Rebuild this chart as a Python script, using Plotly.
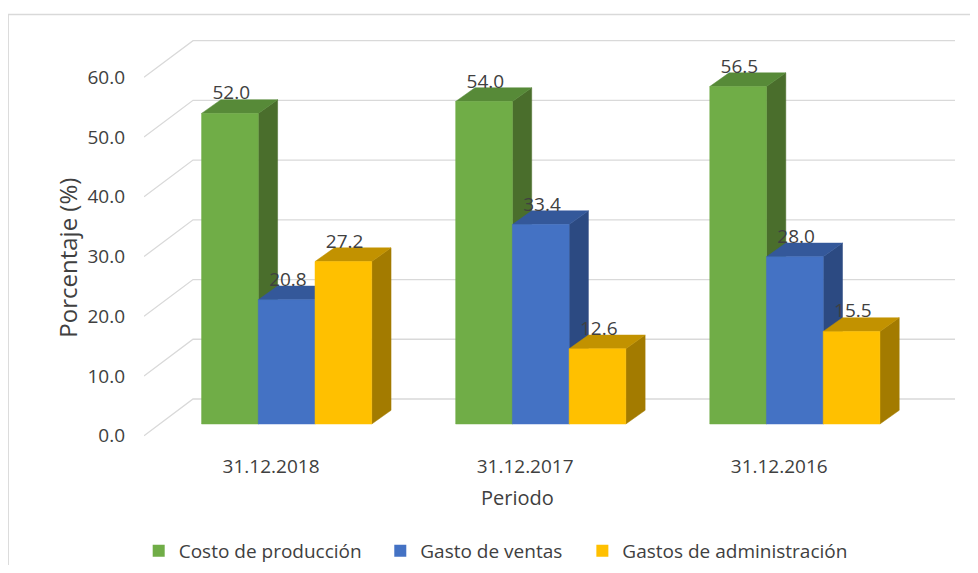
import plotly.graph_objects as go

# ---------------- data ----------------
categories = ["31.12.2018", "31.12.2017", "31.12.2016"]
series_names = ["Costo de producción", "Gasto de ventas", "Gastos de administración"]
costo_produccion = [52.0, 54.0, 56.5]
gasto_ventas = [20.8, 33.4, 28.0]
gastos_administracion = [27.2, 12.6, 15.5]
y_ticks = [0, 10, 20, 30, 40, 50, 60]

series_values = [costo_produccion, gasto_ventas, gastos_administracion]
front_colors = ["#70AD47", "#4472C4", "#FFC000"]
top_colors = ["#578A38", "#34589A", "#C29200"]
side_colors = ["#4A6E2C", "#2C4A82", "#A37B00"]

# page body has an 8px margin: work in screen pixels, convert with OFF
OFF = 8
FIG_W, FIG_H = 978 - 2 * OFF, 573 - 2 * OFF

# ------------- pseudo-3D geometry (data units) -------------
PX_CAT = 254.0          # pixels per category
PX_VAL = 5.973          # pixels per value unit
BAR_W = 56.7 / PX_CAT
BAR_X0 = 15.6 / PX_CAT  # bar front plane shift
BAR_Y0 = 11.7 / PX_VAL
BAR_DX = 19.3 / PX_CAT  # bar depth
BAR_DY = 13.7 / PX_VAL
WALL_DX = 49.0 / PX_CAT
WALL_DY = 36.7 / PX_VAL

# plot area in screen pixels
PL, PR, PT, PB = 144.3, 955.0, 20.0, 450.0
L = PL - OFF
T = PT - OFF
R = FIG_W - (PR - OFF)
B = FIG_H - (PB - OFF)
W_PX, H_PX = PR - PL, PB - PT
x_range = [-0.5, -0.5 + W_PX / PX_CAT]
y_range = [-(PB - 435.7) / PX_VAL, (435.7 - PT) / PX_VAL]
n_cat = len(categories)
x_right = n_cat - 0.5 + WALL_DX


def px(xs):
    return (xs - PL) / W_PX


def py(ys):
    return (PB - ys) / H_PX


FONT = "Open Sans"
TXT = "#404040"

fig = go.Figure()

# gridlines (left wall + back wall)
gx, gy = [], []
for v in y_ticks:
    gx += [-0.5, -0.5 + WALL_DX, x_right, None]
    gy += [v, v + WALL_DY, v + WALL_DY, None]
fig.add_trace(go.Scatter(x=gx, y=gy, mode="lines",
                         line=dict(color="#D9D9D9", width=1.3),
                         hoverinfo="skip", showlegend=False))

# bars
lab_x, lab_y, lab_t = [], [], []
for i in range(n_cat):
    for j, vals in enumerate(series_values):
        v = vals[i]
        x0 = i - 1.5 * BAR_W + j * BAR_W + BAR_X0
        x1 = x0 + BAR_W
        y0 = BAR_Y0
        y1 = BAR_Y0 + v
        fig.add_trace(go.Scatter(
            x=[x1, x1 + BAR_DX, x1 + BAR_DX, x1, x1],
            y=[y0, y0 + BAR_DY, y1 + BAR_DY, y1, y0],
            mode="lines", fill="toself", fillcolor=side_colors[j],
            line=dict(color=side_colors[j], width=0.5),
            hoverinfo="skip", showlegend=False))
        fig.add_trace(go.Scatter(
            x=[x0, x1, x1 + BAR_DX, x0 + BAR_DX, x0],
            y=[y1, y1, y1 + BAR_DY, y1 + BAR_DY, y1],
            mode="lines", fill="toself", fillcolor=top_colors[j],
            line=dict(color=top_colors[j], width=0.5),
            hoverinfo="skip", showlegend=False))
        fig.add_trace(go.Scatter(
            x=[x0, x1, x1, x0, x0],
            y=[y0, y0, y1, y1, y0],
            mode="lines", fill="toself", fillcolor=front_colors[j],
            line=dict(color=front_colors[j], width=0.5),
            hoverinfo="skip", showlegend=False))
        lab_x.append((x0 + x1) / 2 + 1.3 / PX_CAT)
        lab_y.append(y1 + 18.7 / PX_VAL)
        lab_t.append(f"{v:.1f}")

fig.add_trace(go.Scatter(x=lab_x, y=lab_y, text=lab_t, mode="text",
                         textposition="middle center",
                         textfont=dict(family=FONT, size=19, color=TXT),
                         hoverinfo="skip", showlegend=False))

# legend entries, one legend each so they can be placed like the original
legend_ids = ["legend", "legend2", "legend3"]
legend_text_x = [181, 422.5, 624.5]
legend_cfg = {}
for j, name in enumerate(series_names):
    fig.add_trace(go.Scatter(x=[None], y=[None], mode="markers", name=name,
                             legend=legend_ids[j],
                             marker=dict(symbol="square", size=12,
                                         color=front_colors[j])))
    legend_cfg[legend_ids[j]] = dict(
        orientation="h", x=px(legend_text_x[j] - 42), xanchor="left",
        y=py(551), yanchor="middle", font=dict(size=19, color=TXT),
        itemwidth=30, bgcolor="rgba(0,0,0,0)")

fig.update_layout(
    width=FIG_W, height=FIG_H,
    margin=dict(l=L, r=R, t=T, b=B, autoexpand=False),
    paper_bgcolor="white", plot_bgcolor="white",
    font=dict(family=FONT, size=19, color=TXT),
    xaxis=dict(range=x_range, tickvals=list(range(n_cat)), ticktext=categories,
               showgrid=False, zeroline=False, showline=False, ticks="",
               automargin=False,
               ticklabelstandoff=3, tickfont=dict(size=19, color=TXT)),
    yaxis=dict(range=y_range, tickvals=y_ticks, tickformat=".1f",
               showgrid=False, zeroline=False, showline=False, ticks="",
               automargin=False,
               ticklabelstandoff=18, tickfont=dict(size=19, color=TXT)),
    annotations=[
        dict(text="Porcentaje (%)", textangle=-90, xref="paper", yref="paper",
             x=px(67), y=py(258), showarrow=False,
             xanchor="center", yanchor="middle",
             font=dict(size=24, color=TXT)),
        dict(text="Periodo", xref="paper", yref="paper",
             x=px(518), y=py(497), showarrow=False,
             xanchor="center", yanchor="middle",
             font=dict(size=20, color=TXT)),
    ],
    shapes=[dict(type="rect", xref="paper", yref="paper",
                 x0=px(8.5), x1=px(1010), y0=py(620), y1=py(14.5),
                 line=dict(color="#D9D9D9", width=1.5), layer="below")],
    showlegend=True,
    **legend_cfg,
)

fig.write_html("out.html")
